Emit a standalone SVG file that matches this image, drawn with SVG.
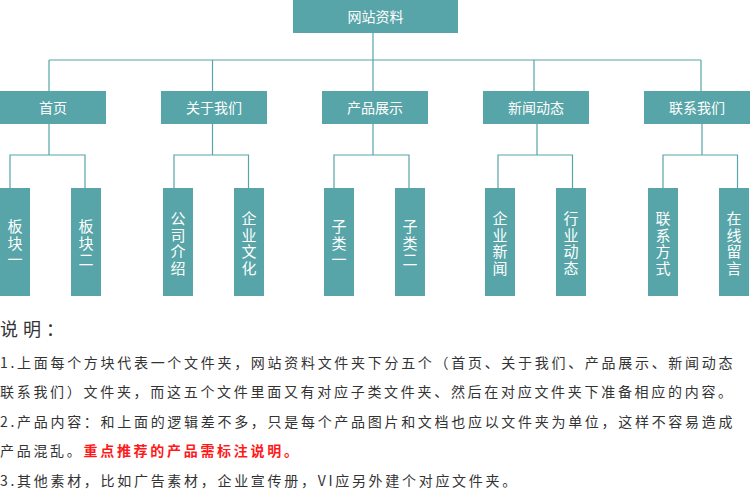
<svg xmlns="http://www.w3.org/2000/svg" width="750" height="500" viewBox="0 0 750 500">
<style>
.box{fill:#57A5A8}
.lbl{fill:#ffffff;font-family:"Noto Sans CJK SC","Noto Sans",sans-serif;font-size:14px;text-anchor:middle}
.vl{fill:#ffffff;font-family:"Noto Sans CJK SC","Noto Sans",sans-serif;font-size:15px;text-anchor:middle;writing-mode:vertical-rl;letter-spacing:1.5px}
.conn{stroke:#57A5A8;stroke-width:1.2;fill:none}
.body{fill:#333333;font-family:"Noto Sans CJK SC","Noto Sans",sans-serif;font-size:14px;letter-spacing:2.7px}
.red{fill:#ff1a1a;font-weight:bold}
.title{fill:#333333;font-family:"Noto Sans CJK SC","Noto Sans",sans-serif;font-size:18px;letter-spacing:5px}
</style>
<rect width="750" height="500" fill="#ffffff"/>
<g id="connectors" class="conn">
<path d="M373 33V60M49 60H701M49 60V91M212.5 60V91M373 60V91M534 60V91M701 60V91"/>
<path d="M49 124V155M212.5 124V155M373 124V155M537 124V155M702 124V155"/>
<path d="M10 188V155H85V188M174 188V155H248.5V188M334 188V155H409V188M498 188V155H572.5V188M663 188V155H737.5V188"/>
</g>
<g id="root"><rect class="box" x="293" y="0" width="165" height="33"/><text class="lbl" x="375.5" y="21.5">网站资料</text></g>
<g id="n-home"><rect class="box" x="0" y="91" width="106" height="33"/><text class="lbl" x="53" y="112.5">首页</text></g>
<g id="n-about"><rect class="box" x="161" y="91" width="106" height="33"/><text class="lbl" x="214" y="112.5">关于我们</text></g>
<g id="n-product"><rect class="box" x="322" y="91" width="106" height="33"/><text class="lbl" x="375" y="112.5">产品展示</text></g>
<g id="n-news"><rect class="box" x="483" y="91" width="106" height="33"/><text class="lbl" x="536" y="112.5">新闻动态</text></g>
<g id="n-contact"><rect class="box" x="644" y="91" width="106" height="33"/><text class="lbl" x="697" y="112.5">联系我们</text></g>

<g id="l-b1"><rect class="box" x="0" y="188" width="30" height="108"/><text class="vl" x="15" y="244">板块一</text></g>
<g id="l-b2"><rect class="box" x="71" y="188" width="30" height="108"/><text class="vl" x="86" y="244">板块二</text></g>
<g id="l-c1"><rect class="box" x="163" y="188" width="30" height="108"/><text class="vl" x="178" y="244">公司介绍</text></g>
<g id="l-c2"><rect class="box" x="234" y="188" width="30" height="108"/><text class="vl" x="249" y="244">企业文化</text></g>
<g id="l-p1"><rect class="box" x="324" y="188" width="30" height="108"/><text class="vl" x="339" y="244">子类一</text></g>
<g id="l-p2"><rect class="box" x="395" y="188" width="30" height="108"/><text class="vl" x="410" y="244">子类二</text></g>
<g id="l-n1"><rect class="box" x="485" y="188" width="30" height="108"/><text class="vl" x="500" y="244">企业新闻</text></g>
<g id="l-n2"><rect class="box" x="556" y="188" width="30" height="108"/><text class="vl" x="571" y="244">行业动态</text></g>
<g id="l-k1"><rect class="box" x="648" y="188" width="30" height="108"/><text class="vl" x="663" y="244">联系方式</text></g>
<g id="l-k2"><rect class="box" x="719" y="188" width="30" height="108"/><text class="vl" x="734" y="244">在线留言</text></g>

<g id="notes">
<text class="title" x="0" y="336">说明：</text>
<text class="body" x="0" y="367.5">1.上面每个方块代表一个文件夹，网站资料文件夹下分五个（首页、关于我们、产品展示、新闻动态</text>
<text class="body" x="0" y="397">联系我们）文件夹，而这五个文件里面又有对应子类文件夹、然后在对应文件夹下准备相应的内容。</text>
<text class="body" x="0" y="426.5">2.产品内容：和上面的逻辑差不多，只是每个产品图片和文档也应以文件夹为单位，这样不容易造成</text>
<text class="body" x="0" y="456">产品混乱。<tspan class="red">重点推荐的产品需标注说明。</tspan></text>
<text class="body" x="0" y="486">3.其他素材，比如广告素材，企业宣传册，VI应另外建个对应文件夹。</text>
</g>
</svg>
